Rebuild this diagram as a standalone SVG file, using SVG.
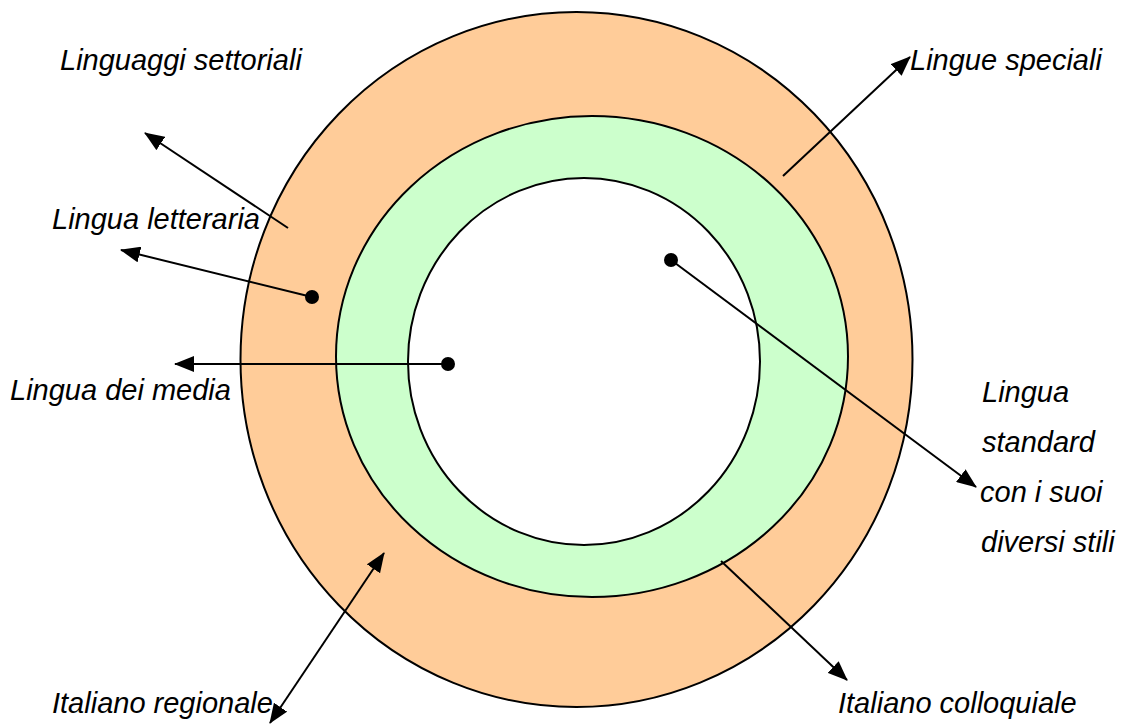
<svg xmlns="http://www.w3.org/2000/svg" width="1127" height="725" viewBox="0 0 1127 725">
  <style>
    .lbl { font-family: "Liberation Sans", Arial, sans-serif; font-style: italic; font-size: 29px; fill: #000; }
    .ring { stroke: #000; stroke-width: 2; }
    .conn { stroke: #000; stroke-width: 2; fill: none; }
    .dot { fill: #000; }
  </style>
  <defs>
    <marker id="arrow" markerUnits="userSpaceOnUse" markerWidth="20" markerHeight="16" refX="19" refY="8" orient="auto-start-reverse">
      <path d="M0,0 L20,8 L0,16 z" fill="#000"/>
    </marker>
  </defs>
  <rect width="1127" height="725" fill="#fff"/>
  <g id="outer-ring">
    <ellipse class="ring" cx="576.5" cy="359.5" rx="336" ry="347.5" fill="#FFCC99"/>
  </g>
  <g id="middle-ring">
    <ellipse class="ring" cx="592" cy="356.5" rx="256" ry="240.5" fill="#CCFFCC"/>
  </g>
  <g id="inner-circle">
    <ellipse class="ring" cx="584" cy="361.5" rx="176" ry="183.5" fill="#fff"/>
  </g>
  <g id="connectors">
    <line class="conn" x1="288" y1="228" x2="145" y2="133" marker-end="url(#arrow)"/>
    <line class="conn" x1="312" y1="297" x2="121" y2="250" marker-end="url(#arrow)"/>
    <line class="conn" x1="448" y1="364" x2="175" y2="364" marker-end="url(#arrow)"/>
    <line class="conn" x1="783" y1="176" x2="910" y2="57" marker-end="url(#arrow)"/>
    <line class="conn" x1="384" y1="553" x2="270" y2="723" marker-start="url(#arrow)" marker-end="url(#arrow)"/>
    <line class="conn" x1="671" y1="260" x2="976" y2="487" marker-end="url(#arrow)"/>
    <line class="conn" x1="721" y1="561" x2="847" y2="680" marker-end="url(#arrow)"/>
    <circle class="dot" cx="312" cy="297" r="7"/>
    <circle class="dot" cx="448" cy="364" r="7"/>
    <circle class="dot" cx="671" cy="260" r="7"/>
  </g>
  <g id="label-linguaggi-settoriali"><text class="lbl" x="60" y="70">Linguaggi settoriali</text></g>
  <g id="label-lingua-letteraria"><text class="lbl" x="52" y="229">Lingua letteraria</text></g>
  <g id="label-lingua-dei-media"><text class="lbl" x="10" y="400">Lingua dei media</text></g>
  <g id="label-lingue-speciali"><text class="lbl" x="910" y="70">Lingue speciali</text></g>
  <g id="label-lingua-standard">
    <text class="lbl" x="982" y="402">Lingua</text>
    <text class="lbl" x="982" y="452">standard</text>
    <text class="lbl" x="980" y="502">con i suoi</text>
    <text class="lbl" x="981" y="552">diversi stili</text>
  </g>
  <g id="label-italiano-regionale"><text class="lbl" x="52" y="713">Italiano regionale</text></g>
  <g id="label-italiano-colloquiale"><text class="lbl" x="838" y="713">Italiano colloquiale</text></g>
</svg>
